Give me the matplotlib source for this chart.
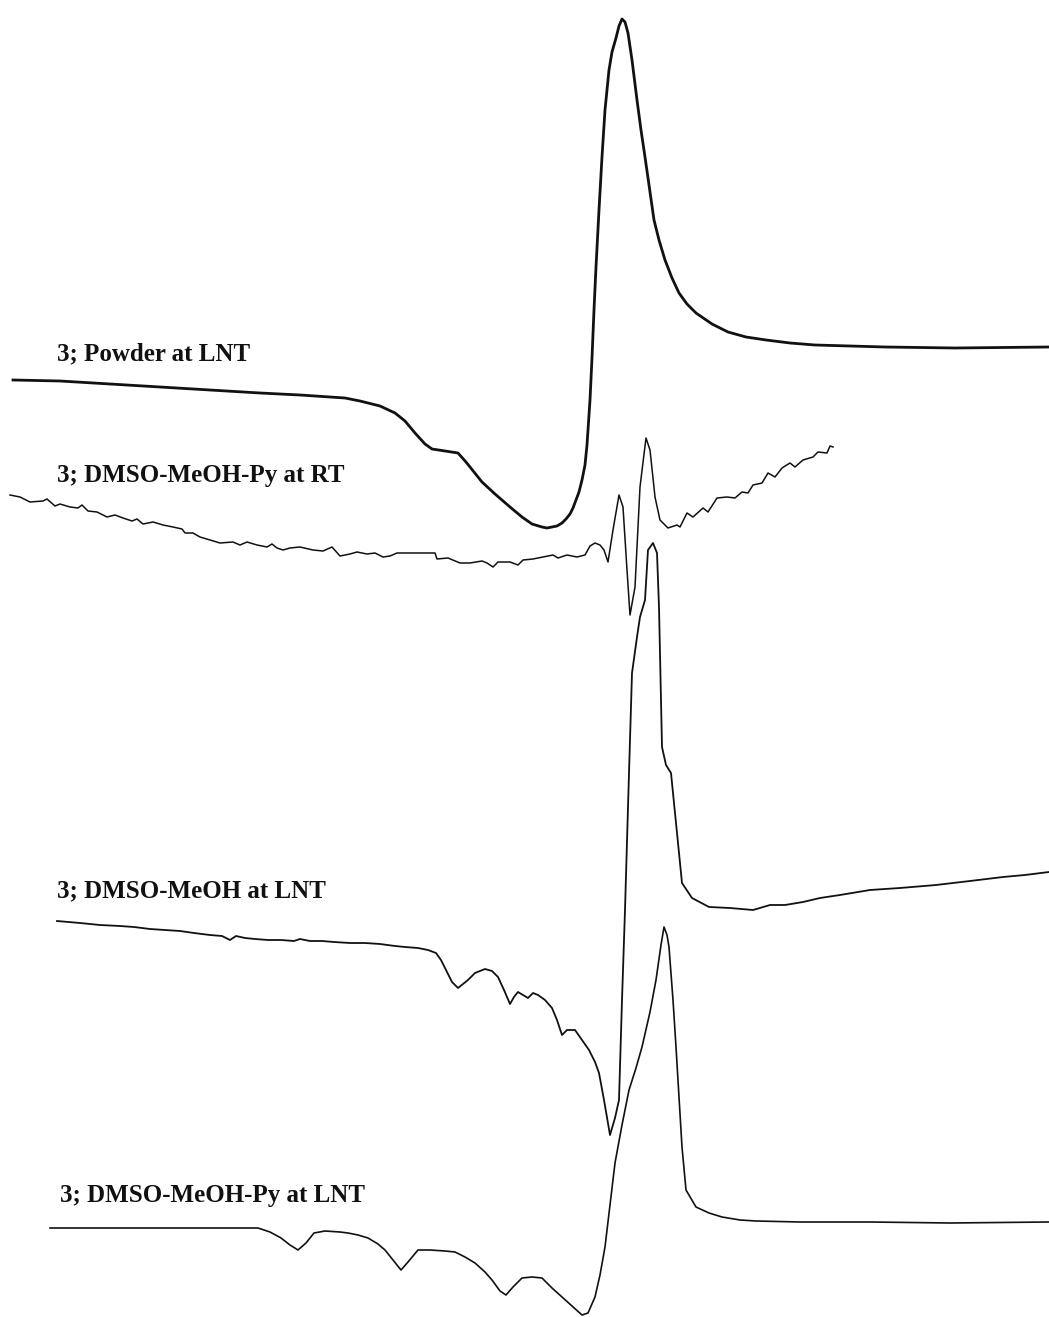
import matplotlib
matplotlib.use("Agg")
import matplotlib.pyplot as plt
import numpy as np

# Spectra; field position vs. signal (signal axis drawn downward)
powder_field = [13, 60, 110, 160, 210, 260, 300, 330, 345, 360, 380, 395, 405, 415, 425, 432, 445,
                458, 466, 474, 482, 495, 510, 522, 532, 542, 547, 552, 557, 562, 566, 570, 573, 576,
                579, 582, 585, 587, 590, 592, 594, 596, 599, 602, 605, 609, 612, 616, 619, 622, 625,
                628, 632, 637, 641, 645, 649, 654, 659, 665, 672, 679, 687, 696, 712, 728, 746, 766,
                790, 815, 850, 885, 955, 1049]
powder_signal = [380, 381, 384, 387, 390, 393, 395, 397, 398, 401, 406, 413, 421, 433, 444, 449, 451,
                 453, 462, 472, 482, 494, 507, 517, 524, 527, 528, 527, 526, 523, 519, 514, 508, 500,
                 492, 480, 465, 445, 400, 358, 310, 267, 210, 157, 110, 70, 52, 38, 26, 19, 22,
                 33, 60, 100, 130, 157, 185, 220, 240, 260, 278, 293, 304, 313, 324, 332, 337, 340,
                 343, 345, 346, 347, 348, 347]

rt_field = [10, 20, 30, 43, 47, 55, 60, 70, 78, 82, 88, 97, 107, 115, 123, 132, 137, 143, 153, 163,
            173, 182, 185, 193, 200, 210, 220, 233, 240, 247, 257, 267, 272, 277, 283, 290, 300, 313,
            323, 332, 340, 350, 357, 367, 375, 383, 390, 397, 410, 420, 435, 437, 448, 460, 470, 482,
            487, 493, 498, 510, 518, 523, 533, 543, 553, 558, 567, 577, 585, 590, 595, 600, 604, 608,
            613, 619, 623, 627, 630, 635, 640, 646, 650, 655, 660, 668, 677, 680, 687, 693, 703, 708,
            717, 727, 735, 742, 748, 753, 762, 768, 775, 782, 790, 795, 803, 813, 818, 827, 830, 833]
rt_signal = [495, 497, 502, 501, 499, 506, 504, 507, 508, 505, 511, 512, 517, 515, 518, 521, 519, 524,
             522, 525, 527, 529, 533, 533, 537, 540, 543, 542, 545, 542, 545, 547, 544, 548, 550, 548,
             547, 550, 551, 547, 556, 554, 552, 554, 553, 557, 556, 553, 553, 553, 553, 559, 558, 563,
             563, 561, 563, 567, 562, 562, 565, 560, 559, 557, 555, 558, 555, 557, 555, 546, 543, 545,
             550, 562, 530, 495, 507, 570, 615, 587, 487, 438, 450, 497, 520, 528, 525, 527, 513, 517,
             508, 512, 498, 497, 498, 492, 493, 485, 483, 473, 477, 468, 463, 467, 460, 457, 452, 453,
             446, 447]

meoh_field = [57, 80, 100, 120, 134, 150, 165, 180, 194, 210, 222, 230, 236, 245, 255, 268, 281, 294,
              300, 310, 322, 334, 350, 365, 380, 395, 405, 418, 428, 436, 441, 447, 452, 458, 463, 468,
              475, 485, 492, 498, 504, 510, 514, 518, 523, 528, 533, 538, 545, 552, 557, 562, 567, 575,
              582, 589, 595, 599, 604, 610, 615, 619, 622, 625, 629, 632, 637, 640, 645, 648, 653, 657,
              659, 662, 666, 671, 676, 682, 692, 709, 730, 753, 770, 785, 803, 820, 840, 870, 900, 936,
              970, 1003, 1025, 1049]
meoh_signal = [921, 923, 925, 926, 927, 929, 930, 931, 933, 935, 936, 940, 936, 938, 939, 940, 940,
               941, 939, 941, 941, 942, 943, 943, 944, 946, 947, 948, 950, 953, 960, 972, 982, 988,
               984, 980, 973, 969, 971, 977, 990, 1004, 997, 992, 995, 998, 993, 995, 1000, 1008,
               1020, 1035, 1030, 1030, 1040, 1050, 1062, 1073, 1100, 1135, 1118, 1100, 1000, 910,
               773, 673, 637, 617, 600, 550, 543, 553, 607, 747, 765, 773, 823, 883, 898, 907, 908,
               910, 905, 905, 902, 898, 895, 890, 888, 885, 881, 877, 875, 872]

py_field = [50, 100, 150, 200, 258, 270, 281, 290, 298, 306, 314, 325, 340, 348, 358, 368, 378, 385,
            393, 401, 408, 418, 430, 445, 455, 465, 475, 485, 492, 500, 506, 513, 522, 532, 542, 552,
            562, 572, 582, 588, 595, 600, 605, 610, 615, 622, 629, 636, 642, 650, 656, 661, 664, 667,
            669, 673, 676, 682, 686, 696, 709, 722, 740, 756, 800, 870, 950, 1049]
py_signal = [1228, 1228, 1228, 1228, 1228, 1232, 1238, 1245, 1250, 1243, 1233, 1231, 1232, 1233, 1235,
             1238, 1244, 1250, 1260, 1270, 1262, 1250, 1250, 1251, 1252, 1257, 1263, 1272, 1280, 1291,
             1295, 1287, 1278, 1277, 1278, 1288, 1297, 1306, 1315, 1313, 1297, 1275, 1247, 1205, 1163,
             1125, 1090, 1068, 1047, 1012, 980, 945, 927, 935, 947, 1000, 1047, 1147, 1190, 1207, 1213,
             1217, 1220, 1221, 1222, 1222, 1223, 1222]

labels = ["3; Powder at LNT", "3; DMSO-MeOH-Py at RT", "3; DMSO-MeOH at LNT", "3; DMSO-MeOH-Py at LNT"]
label_pos = [(57, 360), (57, 482), (57, 897), (60, 1202)]


def main():
    fig = plt.figure(figsize=(10.49, 13.17), dpi=100)
    ax = fig.add_axes([0, 0, 1, 1])
    ax.set_xlim(0, 1049)
    ax.set_ylim(1317, 0)
    ax.axis("off")

    ink = "#111111"
    ax.plot(np.asarray(powder_field), np.asarray(powder_signal), color=ink, linewidth=2.0,
            solid_joinstyle="round")
    ax.plot(rt_field, rt_signal, color=ink, linewidth=1.1)
    ax.plot(meoh_field, meoh_signal, color=ink, linewidth=1.3)
    ax.plot(py_field, py_signal, color=ink, linewidth=1.2)

    for text, (x, y) in zip(labels, label_pos):
        ax.text(x, y, text, fontsize=18, fontweight="bold", va="baseline", ha="left",
                family=["Liberation Serif", "DejaVu Serif"], color=ink)

    fig.savefig("out.png", dpi=100)
    plt.close(fig)


if __name__ == "__main__":
    main()
